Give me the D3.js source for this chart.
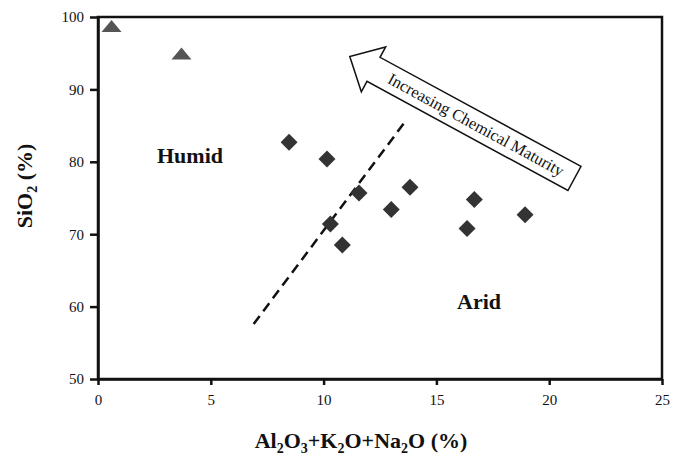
<!DOCTYPE html>
<html>
<head>
<meta charset="utf-8" />
<title>SiO2 vs Al2O3+K2O+Na2O</title>
<script src="https://cdn.jsdelivr.net/npm/d3@7"></script>
<style>
    body { margin: 0; background: #fff; }
    svg text { font-family: "Liberation Serif", "Times New Roman", serif; fill: #111; }
    .axis path, .axis line { stroke: #111; stroke-width: 2.5; }
    .axis text { font-size: 15px; }
</style>
</head>
<body>
<script>
    // two high-silica samples (triangles) and the main set (diamonds)
    var quartzX = [0.6, 3.7];
    var quartzY = [98.7, 94.9];
    var sampleX = [8.47, 10.15, 11.57, 13.83, 10.3, 10.83, 13.0, 16.68, 16.36, 18.93];
    var sampleY = [82.7, 80.4, 75.7, 76.5, 71.4, 68.5, 73.4, 74.8, 70.8, 72.7];
    var xTicks = [0, 5, 10, 15, 20, 25];
    var yTicks = [50, 60, 70, 80, 90, 100];
    // humid / arid boundary (dashed)
    var boundaryX = [6.9, 13.7];
    var boundaryY = [57.6, 85.9];
    // maturity arrow: tail then tip
    var arrowX = [21.12, 11.16];
    var arrowY = [77.7, 94.55];
    // axis titles, [text, subscript?]
    var xTitle = [["Al", 0], ["2", 1], ["O", 0], ["3", 1], ["+K", 0], ["2", 1], ["O+Na", 0], ["2", 1], ["O (%)", 0]];
    var yTitle = [["SiO", 0], ["2", 1], [" (%)", 0]];

    var width = 678,
        height = 458,
        margin = {left: 98, top: 17, right: 16, bottom: 79};

    var x = d3.scaleLinear()
        .domain([0, 25])
        .range([margin.left, width - margin.right]);
    var y = d3.scaleLinear()
        .domain([50, 100])
        .range([height - margin.bottom, margin.top]);

    var svg = d3.select("body").append("svg")
        .attr("width", width)
        .attr("height", height);

    // axes
    svg.append("g")
        .attr("class", "axis")
        .attr("transform", "translate(0," + y(50) + ")")
        .call(d3.axisBottom(x).tickValues(xTicks).tickSize(6).tickSizeOuter(0).tickPadding(9));

    svg.append("g")
        .attr("class", "axis")
        .attr("transform", "translate(" + x(0) + ",0)")
        .call(d3.axisLeft(y).tickValues(yTicks).tickSize(8).tickSizeOuter(0).tickPadding(6));

    // frame
    svg.append("rect")
        .attr("x", x(0))
        .attr("y", y(100))
        .attr("width", x(25) - x(0))
        .attr("height", y(50) - y(100))
        .attr("fill", "none")
        .attr("stroke", "#111")
        .attr("stroke-width", 2.5);

    // dashed boundary
    svg.append("path")
        .datum(d3.range(boundaryX.length))
        .attr("d", d3.line().x(function(i){ return x(boundaryX[i]); }).y(function(i){ return y(boundaryY[i]); }))
        .attr("fill", "none")
        .attr("stroke", "#111")
        .attr("stroke-width", 2.5)
        .attr("stroke-dasharray", "10,6");

    // arrow
    var tail = [x(arrowX[0]), y(arrowY[0])],
        tip = [x(arrowX[1]), y(arrowY[1])];
    var dx = tip[0] - tail[0], dy = tip[1] - tail[1],
        len = Math.sqrt(dx * dx + dy * dy),
        ux = dx / len, uy = dy / len,
        nx = -uy, ny = ux;
    var headLen = 27, shaftHalf = 13.7, headHalf = 25.5;
    var base = [tip[0] - ux * headLen, tip[1] - uy * headLen];
    function off(p, k){ return [p[0] + nx * k, p[1] + ny * k]; }
    var arrowPts = [off(tail, shaftHalf), off(base, shaftHalf), off(base, headHalf), tip,
                    off(base, -headHalf), off(base, -shaftHalf), off(tail, -shaftHalf)];
    svg.append("path")
        .attr("d", d3.line().curve(d3.curveLinearClosed)(arrowPts))
        .attr("fill", "#fff")
        .attr("stroke", "#111")
        .attr("stroke-width", 1.5)
        .attr("stroke-linejoin", "miter");

    var angle = Math.atan2(-dy, -dx) * 180 / Math.PI;
    var mid = [(base[0] + tail[0]) / 2 + 2, (base[1] + tail[1]) / 2 + 1];
    svg.append("text")
        .attr("transform", "translate(" + mid[0] + "," + mid[1] + ") rotate(" + angle + ")")
        .attr("text-anchor", "middle")
        .attr("dy", "0.33em")
        .style("font-size", "16.5px")
        .text("Increasing Chemical Maturity");

    // points
    svg.selectAll("path.tri")
        .data(d3.range(quartzX.length))
      .enter().append("path")
        .attr("class", "tri")
        .attr("transform", function(i){ return "translate(" + x(quartzX[i]) + "," + y(quartzY[i]) + ")"; })
        .attr("d", "M0,-6.5L10,5.5L-10,5.5Z")
        .attr("fill", "#555");

    svg.selectAll("path.dot")
        .data(d3.range(sampleX.length))
      .enter().append("path")
        .attr("class", "dot")
        .attr("transform", function(i){ return "translate(" + x(sampleX[i]) + "," + y(sampleY[i]) + ") rotate(45)"; })
        .attr("d", d3.symbol().type(d3.symbolSquare).size(144))
        .attr("fill", "#333");

    // region labels
    svg.append("text")
        .attr("x", 157).attr("y", 163)
        .style("font-size", "22px").style("font-weight", "bold")
        .text("Humid");
    svg.append("text")
        .attr("x", 457).attr("y", 309)
        .style("font-size", "22px").style("font-weight", "bold")
        .text("Arid");

    // axis titles with subscripts
    function title(t, parts){
        var prev = 0;
        parts.forEach(function(p){
            var shift = p[1] ? 5 : 0;
            t.append("tspan")
                .attr("dy", shift - prev)
                .style("font-size", p[1] ? "14px" : null)
                .text(p[0]);
            prev = shift;
        });
    }
    var xt = svg.append("text")
        .attr("x", 361).attr("y", 448)
        .attr("text-anchor", "middle")
        .style("font-size", "22px").style("font-weight", "bold");
    title(xt, xTitle);

    var yt = svg.append("text")
        .attr("transform", "translate(32,186) rotate(-90)")
        .attr("text-anchor", "middle")
        .style("font-size", "22px").style("font-weight", "bold");
    title(yt, yTitle);
</script>
</body>
</html>
